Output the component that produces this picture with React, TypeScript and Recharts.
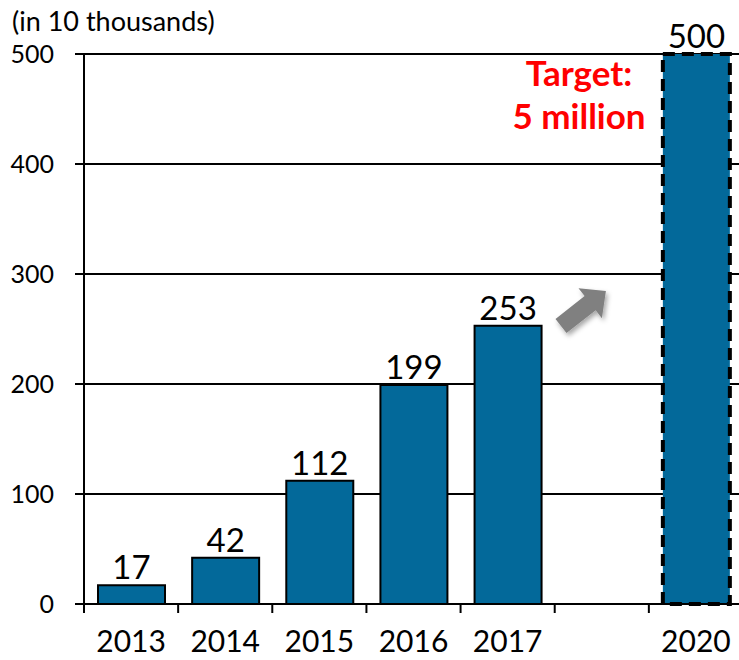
import React from "react";
import { BarChart, Bar, XAxis, YAxis, CartesianGrid, LabelList, Cell } from "recharts";

const categories = ["2013", "2014", "2015", "2016", "2017", "", "2020"];
const values: (number | null)[] = [17, 42, 112, 199, 253, null, 500];
const yTicks = [0, 100, 200, 300, 400, 500];
const unitLabel = "(in 10 thousands)";
const targetLines = ["Target:", "5 million"];

const data = categories.map((c, i) => ({ year: c, value: values[i] }));

const FONT = "Lato, 'Open Sans', sans-serif";
const BLUE = "#03699A";

const XTick = (props: any) => {
  const { x, y, payload, index } = props;
  const off = payload.offset ?? 0;
  return (
    <g>
      <line x1={x - off} x2={x - off} y1={y} y2={y + 9} stroke="#000" strokeWidth={2} />
      {index === categories.length - 1 && (
        <line x1={x + off} x2={x + off} y1={y} y2={y + 9} stroke="#000" strokeWidth={2} />
      )}
      <text x={x} y={y + 48} textAnchor="middle" fontFamily={FONT} fontSize={30} fill="#000">
        {payload.value}
      </text>
    </g>
  );
};

export default function App() {
  const ang = (-38 * Math.PI) / 180;
  const pts = [
    [0, -9], [37, -9], [37, -19], [57, 0], [37, 19], [37, 9], [0, 9],
  ].map(([px, py]) => {
    const X = 561 + px * Math.cos(ang) - py * Math.sin(ang);
    const Y = 326 + px * Math.sin(ang) + py * Math.cos(ang);
    return `${X.toFixed(1)},${Y.toFixed(1)}`;
  }).join(" ");

  return (
    <div style={{ position: "fixed", left: 0, top: 0, width: 739, height: 660, overflow: "hidden", background: "#fff" }}>
      <BarChart
        width={760}
        height={660}
        data={data}
        margin={{ top: 54, right: 17, left: 0, bottom: 16 }}
        barCategoryGap={0}
      >
        <CartesianGrid vertical={false} stroke="#000" strokeWidth={2} strokeOpacity={1} />
        <XAxis
          dataKey="year"
          height={40}
          axisLine={{ stroke: "#000", strokeWidth: 2 }}
          tickLine={false}
          tickSize={0}
          tickMargin={0}
          tick={<XTick />}
          interval={0}
        />
        <YAxis
          width={84}
          domain={[0, 500]}
          ticks={yTicks}
          axisLine={{ stroke: "#000", strokeWidth: 2 }}
          tickLine={{ stroke: "#000", strokeWidth: 2 }}
          tickSize={9}
          tickMargin={21}
          tick={{ fontFamily: FONT, fontSize: 25, fill: "#000" }}
        />
        <Bar dataKey="value" barSize={67} fill={BLUE} stroke="#000" strokeWidth={2} isAnimationActive={false}>
          {data.map((d, i) => (
            <Cell
              key={i}
              fill={BLUE}
              stroke="#000"
              strokeWidth={i === 6 ? 4 : 2}
              strokeDasharray={i === 6 ? "12 7" : undefined}
            />
          ))}
          <LabelList dataKey="value" position="top" offset={6} fontFamily={FONT} fontSize={33} fill="#000" />
        </Bar>
      </BarChart>
      <svg width={739} height={660} style={{ position: "absolute", left: 0, top: 0, pointerEvents: "none" }}>
        <defs>
          <filter id="sh" x="-30%" y="-30%" width="160%" height="160%">
            <feDropShadow dx="2" dy="3" stdDeviation="2.5" floodColor="#000" floodOpacity="0.35" />
          </filter>
        </defs>
        <text x={12} y={31} fontFamily={FONT} fontSize={27} fill="#000">{unitLabel}</text>
        <polygon points={pts} fill="#808080" filter="url(#sh)" />
        <text x={579} y={86} textAnchor="middle" fontFamily={FONT} fontWeight={700} fontSize={35} fill="#FF0000">{targetLines[0]}</text>
        <text x={579} y={129} textAnchor="middle" fontFamily={FONT} fontWeight={700} fontSize={35} fill="#FF0000">{targetLines[1]}</text>
      </svg>
    </div>
  );
}
